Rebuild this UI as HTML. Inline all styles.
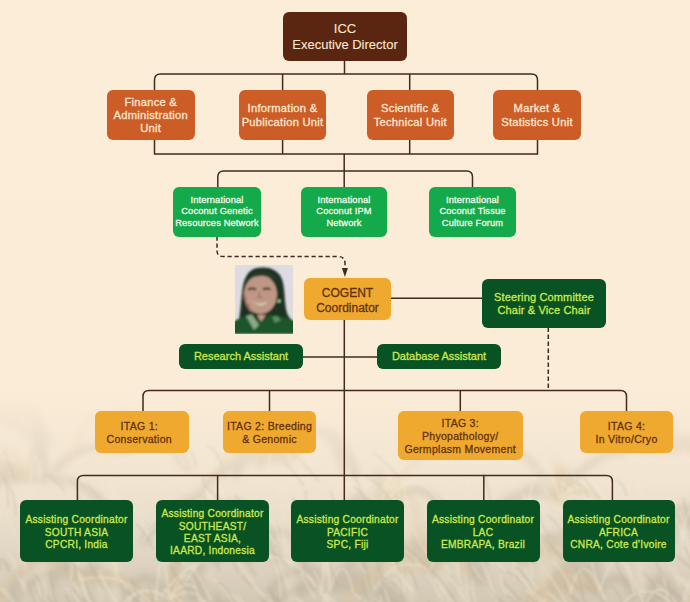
<!DOCTYPE html>
<html><head><meta charset="utf-8">
<style>
html,body{margin:0;padding:0;}
body{width:690px;height:602px;overflow:hidden;position:relative;background:#fcedd8;font-family:"Liberation Sans",sans-serif;}
svg.full{position:absolute;left:0;top:0;width:690px;height:602px;}
.b{position:absolute;display:flex;align-items:center;justify-content:center;text-align:center;box-sizing:border-box;white-space:nowrap;border-radius:6px;}
.b span{display:block;}
.b{-webkit-text-stroke:0.3px currentColor;}
.icc{background:#5a2612;color:#fbe7d0;font-size:13px;line-height:15.5px;-webkit-text-stroke:0.1px currentColor;}
.org{background:#cd5d27;color:#fde8d2;font-size:11.2px;line-height:13.3px;letter-spacing:0.25px;padding-top:2px;}
.grn{background:#14a94b;color:#f0fae8;font-size:9.3px;line-height:11.5px;letter-spacing:0.15px;}
.ylw{background:#f0a92f;color:#623210;}
.dg{background:#095223;color:#cde94e;}
.cog{font-size:12px;line-height:14.8px;padding-top:3px;}
.itag{font-size:10.5px;line-height:12.9px;letter-spacing:0.3px;padding-top:2px;}
.st{font-size:11px;line-height:12.8px;letter-spacing:0.15px;padding-top:2px;}
.asst{font-size:11px;line-height:13px;}
.ac{font-size:10.2px;line-height:12.2px;letter-spacing:0.25px;padding-top:4px;}
</style></head><body>
<svg class="full" width="690" height="602">
  <defs>
    <linearGradient id="bgg" x1="0" y1="0" x2="0" y2="1">
      <stop offset="0" stop-color="#fcedd8"/>
      <stop offset="0.64" stop-color="#fbecd7"/>
      <stop offset="0.8" stop-color="#f1e5d1"/>
      <stop offset="0.9" stop-color="#e3d9c6"/>
      <stop offset="1" stop-color="#d2c8b4"/>
    </linearGradient>
    <linearGradient id="mg" x1="0" y1="0" x2="0" y2="1">
      <stop offset="0" stop-color="#fff" stop-opacity="0"/>
      <stop offset="0.66" stop-color="#fff" stop-opacity="0"/>
      <stop offset="0.8" stop-color="#fff" stop-opacity="0.65"/>
      <stop offset="1" stop-color="#fff" stop-opacity="1"/>
    </linearGradient>
    <mask id="bm"><rect width="690" height="602" fill="url(#mg)"/></mask>
    <filter id="bf" x="-5%" y="-5%" width="110%" height="110%"><feGaussianBlur stdDeviation="1"/></filter><filter id="bf2" x="-5%" y="-5%" width="110%" height="110%"><feGaussianBlur stdDeviation="3"/></filter>
  </defs>
  <rect x="0" y="0" width="690" height="602" fill="url(#bgg)"/>
  <g mask="url(#bm)">
<g filter="url(#bf2)">
<path d="M30 480 Q39 420 46 481 M30 480 Q-21 434 -55 504 M30 480 Q-2 471 -24 502 M30 480 Q-17 457 -49 509 M30 480 Q-22 473 -57 520 M30 480 Q40 393 47 480 M30 480 Q81 469 115 517 M30 480 Q7 455 -6 489 M120 450 Q124 369 128 450 M120 450 Q112 391 108 450 M120 450 Q159 417 185 469 M120 450 Q77 437 48 479 M120 450 Q116 381 114 450 M200 520 Q166 505 143 541 M200 520 Q168 505 147 539 M200 520 Q224 498 240 531 M200 520 Q243 479 272 540 M200 520 Q187 482 178 522 M290 460 Q329 395 356 473 M290 460 Q272 427 260 465 M290 460 Q257 432 236 475 M290 460 Q322 398 344 469 M290 460 Q258 385 238 467 M290 460 Q281 408 275 460 M290 460 Q234 444 196 498 M380 510 Q357 481 342 518 M380 510 Q425 462 455 529 M380 510 Q379 432 378 510 M470 450 Q471 381 472 450 M470 450 Q515 433 545 479 M470 450 Q486 406 498 453 M560 500 Q571 445 578 501 M560 500 Q513 477 483 527 M560 500 Q530 469 511 512 M560 500 Q560 444 560 500 M660 450 Q690 433 711 468 M660 450 Q600 439 561 494 M660 450 Q669 377 676 450 M660 450 Q651 401 646 450 M660 450 Q604 436 566 489 M660 450 Q694 419 717 466 M660 450 Q636 387 621 454 M80 580 Q64 546 53 584 M80 580 Q99 551 112 586 M80 580 Q114 560 138 600 M80 580 Q43 558 19 600 M80 580 Q38 528 10 596 M80 580 Q112 569 134 601 M80 580 Q125 571 156 614 M330 590 Q367 557 392 608 M330 590 Q313 548 302 593 M330 590 Q358 532 377 597 M330 590 Q290 545 264 606 M330 590 Q380 561 414 619 M330 590 Q363 528 385 599 M330 590 Q364 581 387 614 M330 590 Q352 553 368 597 M330 590 Q289 577 263 617 M600 590 Q621 562 635 598 M600 590 Q595 518 592 590 M600 590 Q574 537 557 596 M600 590 Q548 569 514 623 M600 590 Q566 537 543 601 M430 570 Q462 525 483 581 M430 570 Q395 512 373 580 M430 570 Q415 510 406 572 M430 570 Q457 539 475 581 M170 600 Q201 557 222 611 M170 600 Q189 545 202 604 M170 600 Q200 576 220 615 M170 600 Q226 587 264 640 M170 600 Q177 524 183 600 M170 600 Q142 551 124 608 M700 540 Q676 501 660 547 M700 540 Q660 477 633 553 M700 540 Q683 471 672 542 M700 540 Q746 504 778 564 M700 540 Q698 450 696 540 M700 540 Q675 487 658 546 M-20 420 Q-36 362 -47 422 M-20 420 Q19 366 45 434 M-20 420 Q-37 362 -49 423 M-20 420 Q-31 353 -39 421 M-20 420 Q-1 370 11 424 M-20 420 Q12 409 34 441 M-20 420 Q-40 343 -53 423 M-20 420 Q21 393 48 442 M-20 420 Q-5 345 4 421 M-20 420 Q-45 364 -62 426 M-20 420 Q12 369 34 431 M250 560 Q219 493 199 567 M250 560 Q223 524 205 569 M250 560 Q285 498 309 571 M250 560 Q266 500 277 562 M250 560 Q215 542 191 581 M520 560 Q497 525 483 567 M520 560 Q564 531 594 584 M520 560 Q523 492 526 560 M520 560 Q554 520 576 573 M520 560 Q527 510 532 560 M520 560 Q562 505 590 576 M520 560 Q527 483 532 560 M680 610 Q712 576 733 623 M680 610 Q660 576 647 615 M680 610 Q702 578 717 618 M680 610 Q710 572 730 621 M680 610 Q658 544 644 614 M680 610 Q727 564 759 631" stroke="#b0a58f" stroke-opacity="0.4" stroke-width="8" stroke-linecap="round" fill="none"/>
<path d="M640 479 L641 602 M33 474 L39 602 M114 419 L113 602 M51 439 L43 602 M402 468 L411 602 M201 479 L211 602 M382 435 L370 602 M282 481 L291 602 M319 491 L328 602 M182 441 L183 602 M449 466 L442 602 M111 418 L118 602 M111 497 L100 602 M544 472 L544 602 M29 412 L24 602 M471 430 L462 602" stroke="#f7ead2" stroke-opacity="0.4" stroke-width="5" stroke-linecap="round" fill="none"/>
<path d="M30 480 Q9 453 -4 488 M30 480 Q3 419 -14 486 M120 450 Q93 372 75 455 M120 450 Q163 410 192 470 M200 520 Q183 473 173 523 M200 520 Q235 507 259 543 M290 460 Q244 418 214 481 M290 460 Q276 390 267 461 M380 510 Q402 466 417 516 M380 510 Q341 493 316 534 M380 510 Q393 444 403 511 M470 450 Q451 395 438 453 M470 450 Q426 441 397 481 M560 500 Q563 434 566 500 M560 500 Q556 424 553 500 M560 500 Q588 473 607 513 M660 450 Q703 440 732 481 M80 580 Q133 566 168 617 M80 580 Q30 536 -2 603 M600 590 Q553 550 522 612 M600 590 Q558 566 530 614 M600 590 Q560 580 534 618 M600 590 Q556 572 528 617 M430 570 Q437 492 443 570 M430 570 Q451 503 465 574 M430 570 Q416 482 408 571 M430 570 Q379 554 345 604 M430 570 Q426 511 423 570 M170 600 Q175 535 179 600 M700 540 Q755 526 793 579 M250 560 Q260 482 268 560 M520 560 Q548 519 567 570 M520 560 Q536 516 547 563 M680 610 Q720 565 747 626 M680 610 Q725 599 755 642" stroke="#e0c096" stroke-opacity="0.35" stroke-width="7" stroke-linecap="round" fill="none"/>
</g>
<g filter="url(#bf)">
<path d="M30 480 Q36 433 41 480 M120 450 Q129 404 135 451 M120 450 Q158 404 184 465 M120 450 Q90 445 71 472 M120 450 Q121 396 122 450 M120 450 Q149 446 168 472 M200 520 Q245 491 275 544 M200 520 Q167 489 146 534 M200 520 Q219 461 232 523 M200 520 Q166 506 143 541 M200 520 Q207 460 212 520 M200 520 Q217 440 229 522 M200 520 Q228 496 246 533 M290 460 Q277 401 269 461 M380 510 Q390 462 396 511 M380 510 Q397 429 408 512 M380 510 Q345 452 321 521 M380 510 Q422 448 450 525 M470 450 Q492 415 507 457 M470 450 Q416 442 380 490 M470 450 Q468 395 466 450 M470 450 Q446 414 431 457 M470 450 Q448 385 434 454 M560 500 Q586 488 604 516 M560 500 Q595 489 619 524 M560 500 Q571 440 579 501 M560 500 Q592 467 614 514 M560 500 Q591 458 612 512 M560 500 Q541 428 529 502 M660 450 Q646 394 636 452 M660 450 Q695 397 718 462 M660 450 Q665 377 669 450 M80 580 Q126 567 157 612 M80 580 Q74 528 71 580 M330 590 Q325 525 322 590 M330 590 Q343 546 353 592 M600 590 Q582 546 570 594 M600 590 Q620 526 634 593 M430 570 Q397 552 375 589 M430 570 Q448 530 461 574 M170 600 Q140 576 120 614 M170 600 Q194 580 211 612 M170 600 Q137 575 115 616 M170 600 Q161 522 156 600 M170 600 Q188 549 200 603 M170 600 Q190 566 204 606 M700 540 Q689 485 682 541 M700 540 Q698 499 696 540 M700 540 Q721 497 736 546 M700 540 Q750 521 784 572 M-20 420 Q-2 353 9 422 M-20 420 Q-4 367 5 422 M-20 420 Q-19 371 -18 420 M250 560 Q197 545 162 596 M250 560 Q212 535 187 580 M250 560 Q289 547 315 586 M250 560 Q251 517 252 560 M250 560 Q239 497 231 561 M520 560 Q531 487 538 561 M520 560 Q503 514 492 563 M680 610 Q702 531 716 613 M680 610 Q710 547 731 618 M680 610 Q657 566 642 616 M680 610 Q636 565 607 629 M680 610 Q725 552 755 627" stroke="#faf0dc" stroke-opacity="0.4" stroke-width="2.2" stroke-linecap="round" fill="none"/>
</g>
<g filter="url(#bf)">
<path d="M388 554 Q395 566 410 589 M115 576 Q125 579 126 590 M548 574 Q558 588 569 608 M313 582 Q327 595 331 609 M354 594 Q367 601 382 619 M351 506 Q357 511 365 529 M10 571 Q21 578 25 588 M79 602 Q90 604 92 616 M519 507 Q524 518 529 531 M108 528 Q120 535 128 549 M647 512 Q654 521 667 530 M82 572 Q83 585 88 601 M301 572 Q306 585 316 599 M62 615 Q64 617 72 627 M530 599 Q535 610 537 624 M591 560 Q596 580 606 601 M213 578 Q226 589 234 604 M125 585 Q140 596 148 613 M709 557 Q718 571 716 586 M191 565 Q202 580 211 600 M637 603 Q643 609 649 619 M63 548 Q72 552 70 562 M93 457 Q96 465 102 480 M79 573 Q80 579 85 596 M627 619 Q625 626 632 638 M31 506 Q47 513 60 531 M63 507 Q75 527 76 550 M491 443 Q504 451 511 464 M547 592 Q557 599 565 610 M130 505 Q139 513 149 522 M435 579 Q446 595 463 613 M36 505 Q46 515 50 538 M519 576 Q530 585 535 602 M688 544 Q695 555 703 573 M543 452 Q551 464 555 477 M362 518 Q374 530 392 550 M66 549 Q70 556 77 565 M446 575 Q461 589 468 605 M8 607 Q11 614 26 622 M531 525 Q538 537 547 555 M525 553 Q531 559 533 578 M524 568 Q526 573 538 590 M391 477 Q400 491 400 505 M420 610 Q428 621 439 643 M374 598 Q392 610 400 626 M513 557 Q517 574 528 592 M351 557 Q355 561 367 574 M545 598 Q543 605 553 618 M521 492 Q526 498 529 506 M88 611 Q99 618 105 627 M7 552 Q15 559 16 569 M525 584 Q526 587 531 598 M314 570 Q322 584 325 609 M664 578 Q668 596 671 615 M82 480 Q90 491 106 504 M493 556 Q495 561 506 571 M291 611 Q303 626 307 646 M399 563 Q404 573 404 593 M437 614 Q440 620 443 632 M389 567 Q406 579 414 594 M641 604 Q645 610 660 623 M225 547 Q233 555 245 572 M63 488 Q75 498 77 513 M637 590 Q642 603 653 624 M99 570 Q104 584 119 607 M674 566 Q679 580 696 595 M343 530 Q350 537 349 551 M673 517 Q681 522 682 539 M621 549 Q629 569 637 589 M498 530 Q510 543 521 559 M408 436 Q412 444 425 463 M515 504 Q535 519 544 535 M260 593 Q270 593 273 604 M549 503 Q561 509 569 523 M506 589 Q513 595 517 607 M501 574 Q500 584 506 594 M538 596 Q549 608 567 624 M337 461 Q350 471 357 481 M692 589 Q702 594 703 603 M205 515 Q217 523 225 533 M324 594 Q332 610 331 629 M454 570 Q458 575 470 590 M132 491 Q136 500 149 517 M466 590 Q471 607 476 629 M239 563 Q244 573 255 583 M393 578 Q400 583 399 594 M545 489 Q551 500 567 515 M259 469 Q267 477 282 497 M236 595 Q249 606 254 627 M602 521 Q604 526 608 535 M19 547 Q25 553 26 570 M216 457 Q223 466 226 477 M676 576 Q687 588 704 600 M79 459 Q92 468 94 479 M538 604 Q549 612 552 633 M627 537 Q628 546 633 558 M451 561 Q458 568 463 577 M54 472 Q68 479 74 492 M614 606 Q625 612 630 627 M248 579 Q258 590 275 609 M448 618 Q460 635 464 654 M177 523 Q188 529 189 548 M66 588 Q75 593 83 607 M87 598 Q96 608 96 629 M625 497 Q631 504 634 515 M225 432 Q231 440 229 453 M269 599 Q284 610 291 624 M472 566 Q481 579 494 597 M680 511 Q680 516 687 533 M445 540 Q452 543 456 554 M111 512 Q119 526 122 541 M682 551 Q696 562 701 584 M591 487 Q603 496 606 512 M11 567 Q15 579 24 592 M163 588 Q175 600 179 615 M380 595 Q382 604 386 614 M256 619 Q268 634 271 656 M126 595 Q135 605 137 620 M667 562 Q674 573 680 586 M307 575 Q315 581 321 595 M-10 582 Q0 586 9 599 M54 525 Q63 532 62 541 M507 542 Q515 557 514 581 M104 473 Q107 487 122 503 M296 597 Q309 613 310 630 M560 481 Q573 490 583 507 M59 607 Q62 616 74 635 M282 519 Q281 534 287 551 M66 588 Q74 599 92 618 M705 510 Q716 521 718 536 M168 591 Q181 601 196 618 M3 588 Q12 595 14 607 M133 603 Q142 610 151 627 M163 480 Q172 499 176 522 M448 597 Q450 611 453 626 M380 583 Q387 591 390 608 M50 606 Q55 618 69 641 M566 542 Q574 552 583 570 M99 537 Q113 551 117 574 M504 615 Q518 632 521 651 M629 503 Q636 515 648 528 M480 558 Q488 575 496 599 M673 516 Q685 533 692 554 M29 425 Q32 442 37 464 M542 444 Q554 450 561 461 M153 535 Q161 549 168 564 M139 518 Q145 526 147 535 M709 602 Q714 616 722 639 M413 527 Q417 541 433 561 M647 471 Q654 476 662 484 M302 600 Q301 608 306 617 M315 617 Q326 620 326 634 M289 451 Q287 456 296 466 M225 617 Q232 626 234 638 M427 572 Q431 579 440 597 M343 546 Q354 554 361 563 M639 520 Q652 531 656 547 M594 527 Q600 541 601 561 M73 583 Q82 595 84 618 M201 600 Q221 609 230 626 M473 580 Q471 593 480 614 M526 581 Q532 588 541 604 M340 522 Q346 531 364 550 M148 617 Q152 630 159 646 M682 577 Q689 583 696 596 M370 605 Q373 614 381 634 M276 548 Q278 566 290 589 M439 548 Q439 560 451 573 M429 618 Q437 624 439 639 M552 561 Q564 571 571 589 M4 507 Q8 518 15 534 M270 514 Q275 526 280 540 M700 567 Q709 579 711 598 M230 593 Q246 608 256 628 M686 610 Q691 612 697 621 M257 602 Q268 610 280 625 M555 547 Q565 549 565 559 M-4 507 Q2 509 1 522 M490 587 Q500 603 503 627 M325 594 Q343 609 352 625 M643 549 Q643 552 651 563 M141 596 Q145 605 156 617 M366 556 Q372 562 380 575 M270 554 Q280 571 281 598 M705 474 Q712 489 715 512" stroke="#f6e8cf" stroke-opacity="0.4" stroke-width="2.2" fill="none"/>
<path d="M684 618 Q687 636 701 654 M598 615 Q607 629 626 647 M393 549 Q392 558 400 571 M66 594 Q68 598 71 608 M691 605 Q689 607 694 621 M45 474 Q57 481 65 491 M354 486 Q362 494 377 513 M690 565 Q708 578 714 599 M34 574 Q44 585 43 597 M637 591 Q641 607 650 632 M284 606 Q290 619 292 637 M38 576 Q44 594 45 616 M641 502 Q645 510 652 521 M136 524 Q147 533 153 550 M391 581 Q400 588 403 598 M698 598 Q709 608 716 627 M548 515 Q564 530 570 547 M74 589 Q82 602 102 620 M578 561 Q583 572 596 591 M503 580 Q507 588 521 600 M171 613 Q175 616 181 627 M0 559 Q5 562 9 573 M390 599 Q403 603 405 612 M275 598 Q279 602 284 615 M211 558 Q213 560 220 571 M69 590 Q80 607 82 624 M429 601 Q430 615 437 631 M376 614 Q391 626 399 639 M579 539 Q593 547 600 560 M317 615 Q326 624 334 638 M354 501 Q363 503 364 515 M395 613 Q410 631 417 652 M181 521 Q193 531 195 548 M570 579 Q584 592 587 610 M208 546 Q219 552 219 566 M404 546 Q419 557 435 574 M331 491 Q334 506 341 523 M411 570 Q412 574 418 589 M523 537 Q531 545 532 564 M218 582 Q228 588 235 604 M367 525 Q378 530 378 544 M584 478 Q591 487 600 499 M377 563 Q384 580 383 597 M41 597 Q44 604 52 611 M575 482 Q586 487 589 498 M226 545 Q232 555 238 573 M279 611 Q289 624 290 649 M362 580 Q365 592 370 606 M254 619 Q262 628 270 640 M643 572 Q648 577 656 589 M576 568 Q579 576 584 596 M47 595 Q49 599 59 613 M500 598 Q506 609 521 630 M677 556 Q681 559 693 570 M203 475 Q201 482 209 490 M59 542 Q65 556 66 573 M-8 548 Q0 558 1 570 M170 565 Q175 577 190 593 M582 597 Q589 608 602 621 M616 480 Q627 487 626 496 M-17 613 Q-2 624 3 637 M3 475 Q16 494 16 515 M85 583 Q90 593 98 610 M528 594 Q537 603 535 622 M306 490 Q304 499 311 519 M666 582 Q673 598 672 618 M367 554 Q371 567 386 580 M607 532 Q622 540 633 554 M362 599 Q365 603 372 618 M447 525 Q456 532 456 539 M3 559 Q15 573 23 594 M302 551 Q299 558 306 567 M507 572 Q519 576 527 590 M586 586 Q595 594 606 604 M83 608 Q95 615 96 634 M611 586 Q622 595 624 609 M233 512 Q239 529 245 550 M484 473 Q488 485 491 506 M508 595 Q516 602 526 611 M542 534 Q552 546 562 560 M427 567 Q444 580 452 598 M476 515 Q492 534 497 553 M223 500 Q225 509 230 522 M148 583 Q153 593 154 612 M587 610 Q592 611 599 622 M506 514 Q512 531 521 556 M247 558 Q245 562 256 576 M162 527 Q166 541 181 566 M367 530 Q375 542 374 559 M-13 577 Q-5 584 4 598 M235 495 Q240 503 256 513 M535 603 Q542 614 542 627 M652 544 Q651 555 662 574 M20 610 Q26 627 30 650 M371 533 Q372 547 378 570 M613 546 Q615 565 627 586 M83 597 Q94 611 93 626 M33 580 Q35 589 43 608 M611 537 Q617 539 625 552 M32 609 Q43 614 44 631 M539 511 Q540 524 550 538 M241 576 Q243 577 253 587 M674 607 Q685 618 686 633 M458 546 Q466 555 474 575 M513 600 Q517 606 524 616 M70 562 Q77 566 83 575 M571 609 Q578 617 593 632 M431 528 Q445 533 448 545 M283 462 Q295 472 304 486 M207 488 Q214 493 225 507 M685 547 Q687 553 695 571 M50 571 Q52 589 58 610 M503 536 Q510 540 510 550 M649 618 Q657 623 661 631 M564 584 Q570 598 587 614 M295 455 Q307 466 319 482 M331 563 Q329 569 339 586 M269 587 Q270 593 277 608 M26 521 Q36 532 47 551 M644 617 Q645 621 654 632 M89 561 Q94 574 104 589 M568 594 Q580 597 580 609 M668 598 Q675 602 673 617 M515 567 Q527 574 532 589 M681 613 Q688 624 685 637 M1 472 Q9 484 8 507 M364 475 Q379 482 390 500 M81 483 Q93 488 103 504 M199 493 Q202 498 214 510 M292 498 Q306 512 308 533 M103 532 Q100 535 106 548 M3 451 Q10 460 14 479 M659 581 Q663 585 672 595 M352 471 Q360 488 367 506 M79 494 Q77 500 83 514 M672 590 Q688 604 694 620 M509 618 Q519 625 526 635 M654 594 Q664 601 671 612 M272 594 Q276 596 282 607 M602 613 Q615 622 619 640 M385 531 Q397 547 415 563 M388 537 Q396 552 401 574 M373 452 Q384 461 401 479 M616 618 Q630 629 637 643 M480 580 Q498 596 506 615 M270 551 Q280 554 289 569 M452 595 Q455 604 467 618 M20 608 Q33 612 43 627 M73 588 Q78 596 86 612 M131 577 Q136 589 139 605 M202 489 Q208 502 212 524 M435 532 Q434 544 444 564 M461 568 Q460 575 465 585 M707 574 Q713 584 726 603 M229 617 Q243 625 250 635 M28 581 Q31 592 39 611 M191 450 Q192 454 197 466 M555 611 Q561 630 574 651 M683 497 Q686 516 696 537 M504 515 Q512 529 514 551 M216 451 Q221 462 226 479 M206 445 Q216 449 218 459 M627 531 Q632 543 638 559 M360 555 Q368 570 371 593 M688 519 Q699 526 700 540" stroke="#b5a993" stroke-opacity="0.35" stroke-width="2.2" fill="none"/>
</g>
</g>
</svg>
<svg class="full" width="690" height="602" fill="none" stroke="#43291e" stroke-width="1.5">
  <path d="M344.5 61 V74"/>
  <path d="M154.5 90 V80 Q154.5 74 160.5 74 H531.5 Q537.5 74 537.5 80 V90"/>
  <path d="M282.6 74 V90 M409.7 74 V90"/>
  <path d="M154.5 139 V154 H537.5 V139 M282.6 139 V154 M409.7 139 V154"/>
  <path d="M344.2 154 V187"/>
  <path d="M217.8 187 V177 Q217.8 171 223.8 171 H466.5 Q472.5 171 472.5 177 V187"/>
  <path d="M217 236.5 V250.5 Q217 256.5 223 256.5 H338 Q345 256.5 345 263.5 V268" stroke-dasharray="4.2 2.8"/>
  <path d="M341.9 268 L347.9 268 L344.9 277 Z" fill="#43291e" stroke="none"/>
  <path d="M344.3 320 V500"/>
  <path d="M391 298.3 H482.5"/>
  <path d="M302 357 H377"/>
  <path d="M548.3 327.5 V390.5" stroke-dasharray="4.4 2.6"/>
  <path d="M143 411 V396.5 Q143 390.5 149 390.5 H620.5 Q626.5 390.5 626.5 396.5 V411"/>
  <path d="M269.5 390.5 V411 M460.3 390.5 V411"/>
  <path d="M77.4 500 V481.5 Q77.4 475.5 83.4 475.5 H606.4 Q612.4 475.5 612.4 481.5 V500"/>
  <path d="M217.6 475.5 V500 M483.8 475.5 V500"/>
</svg>

<div class="b icc" style="left:283px;top:12px;width:124px;height:49px;"><div><span>ICC</span><span>Executive Director</span></div></div>

<div class="b org" style="left:107px;top:90px;width:87.5px;height:49.5px;"><div><span>Finance &amp;</span><span>Administration</span><span>Unit</span></div></div>
<div class="b org" style="left:239px;top:90px;width:87px;height:49.5px;"><div><span>Information &amp;</span><span>Publication Unit</span></div></div>
<div class="b org" style="left:366.5px;top:90px;width:87.5px;height:49.5px;"><div><span>Scientific &amp;</span><span>Technical Unit</span></div></div>
<div class="b org" style="left:493px;top:90px;width:88px;height:49.5px;"><div><span>Market &amp;</span><span>Statistics Unit</span></div></div>

<div class="b grn" style="left:173px;top:187px;width:88px;height:49.5px;"><div><span>International</span><span>Coconut Genetic</span><span>Resources Network</span></div></div>
<div class="b grn" style="left:301px;top:187px;width:86px;height:49.5px;"><div><span>International</span><span>Coconut IPM</span><span>Network</span></div></div>
<div class="b grn" style="left:429px;top:187px;width:87px;height:49.5px;"><div><span>International</span><span>Coconut Tissue</span><span>Culture Forum</span></div></div>

<svg class="photo" style="position:absolute;left:235px;top:265px;" width="58" height="69" viewBox="0 0 58 69">
  <defs><filter id="pb" x="-20%" y="-20%" width="140%" height="140%"><feGaussianBlur stdDeviation="1"/></filter></defs>
  <rect width="58" height="69" fill="#dfdbe2"/>
  <svg width="58" height="69" viewBox="0 0 58 69" overflow="hidden">
  <g filter="url(#pb)">
  <path d="M3 62 C5 50 6 38 7 28 C8 15 12 5 22 3 C32 1 42 4 46 12 C50 20 49 32 51 44 C52 50 55 54 59 57 L59 69 L1 69 Z" fill="#1c3121"/>
  <ellipse cx="25.5" cy="29.5" rx="16.5" ry="19.5" fill="#bf9785"/>
  <path d="M9 29 C9.5 38 12 44 17 48 L13 35 Z" fill="#9d7767"/>
  <path d="M10 20 C12 11 19 7 27 7 C35 7 40 10 42 17 C36 12 31 11 26 11 C19 11 14 14 10 20 Z" fill="#2b3a2a"/>
  <ellipse cx="15.5" cy="36" rx="4" ry="3" fill="#cc9688"/>
  <path d="M13 24.5 Q17 22.5 21 24.5" stroke="#36241e" stroke-width="2" fill="none"/>
  <path d="M28 24.5 Q32 22.5 35.5 24.5" stroke="#36241e" stroke-width="2" fill="none"/>
  <path d="M24.5 27 L23.5 32.5 L27.5 32.5" stroke="#85604f" stroke-width="1" fill="none"/>
  <path d="M17 36.5 Q25 41 33 36.5 Q26 43.5 17 36.5 Z" fill="#ecdfd6"/>
  <circle cx="44" cy="36" r="1.6" fill="#b4e0a2"/>
  <path d="M-2 69 L-2 57 C4 53 11 51 17 49.5 L26 57 L35 49.5 C43 50.5 51 53 60 56 L60 69 Z" fill="#1d5529"/>
  <path d="M11 51 L17 49.5 L24 60 L19 65 Z" fill="#8aa989"/>
  <path d="M22 50 L26 57 L31 50 Z" fill="#c09a86"/>
  <path d="M37 52 L42 51 L46 55 L40 58 Z" fill="#5a8e62"/>
  </g>
  </svg>
</svg>

<div class="b ylw cog" style="left:304px;top:278px;width:87px;height:42px;"><div><span>COGENT</span><span>Coordinator</span></div></div>
<div class="b dg st" style="left:482px;top:278.5px;width:124px;height:49px;"><div><span>Steering Committee</span><span>Chair &amp; Vice Chair</span></div></div>

<div class="b dg asst" style="left:179px;top:344px;width:124px;height:25.3px;"><span>Research Assistant</span></div>
<div class="b dg asst" style="left:377px;top:344px;width:124px;height:25.3px;"><span>Database Assistant</span></div>

<div class="b ylw itag" style="left:95px;top:411px;width:93.5px;height:42px;padding-right:5px;"><div><span>ITAG 1:</span><span>Conservation</span></div></div>
<div class="b ylw itag" style="left:223px;top:411px;width:93px;height:42px;"><div><span>ITAG 2: Breeding</span><span>&amp; Genomic</span></div></div>
<div class="b ylw itag" style="left:398px;top:411px;width:124.5px;height:49px;"><div><span>ITAG 3:</span><span>Phyopathology/</span><span>Germplasm Movement</span></div></div>
<div class="b ylw itag" style="left:580px;top:411px;width:93px;height:42px;"><div><span>ITAG 4:</span><span>In Vitro/Cryo</span></div></div>

<div class="b dg ac" style="left:20px;top:500px;width:113px;height:61.5px;"><div><span>Assisting Coordinator</span><span>SOUTH ASIA</span><span>CPCRI, India</span></div></div>
<div class="b dg ac" style="left:156px;top:500px;width:113px;height:61.5px;"><div><span>Assisting Coordinator</span><span>SOUTHEAST/</span><span>EAST ASIA,</span><span>IAARD, Indonesia</span></div></div>
<div class="b dg ac" style="left:291px;top:500px;width:113px;height:61.5px;"><div><span>Assisting Coordinator</span><span>PACIFIC</span><span>SPC, Fiji</span></div></div>
<div class="b dg ac" style="left:426.5px;top:500px;width:113px;height:61.5px;"><div><span>Assisting Coordinator</span><span>LAC</span><span>EMBRAPA, Brazil</span></div></div>
<div class="b dg ac" style="left:562.5px;top:500px;width:112px;height:61.5px;"><div><span>Assisting Coordinator</span><span>AFRICA</span><span>CNRA, Cote d’Ivoire</span></div></div>

</body></html>
